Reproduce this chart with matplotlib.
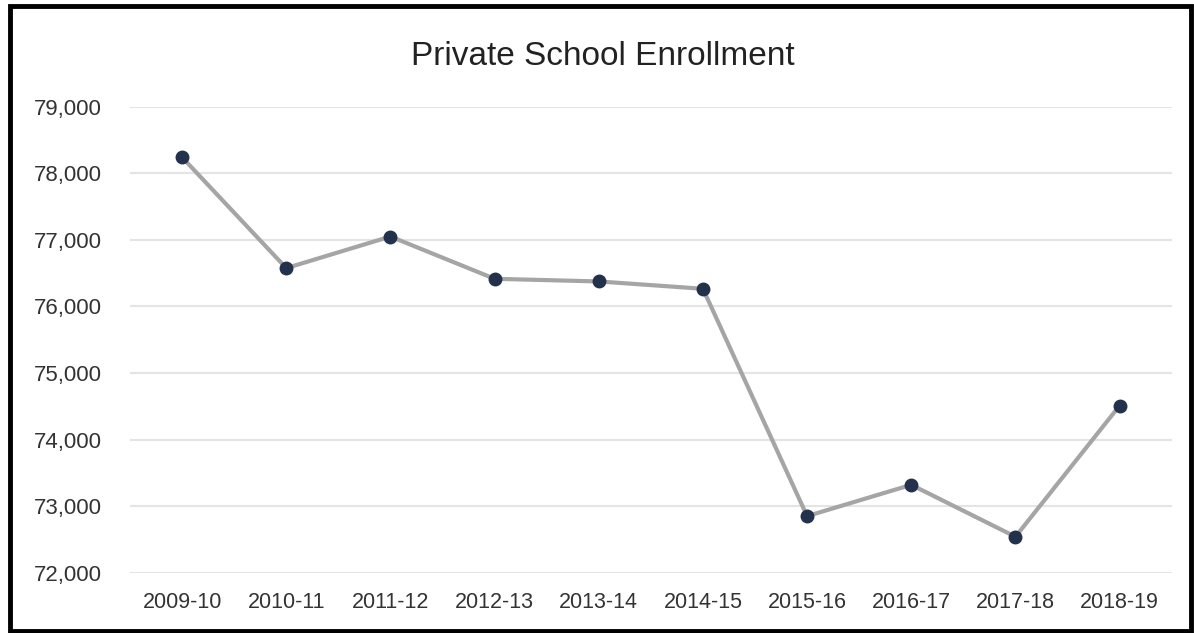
import matplotlib
matplotlib.use("Agg")
import matplotlib.pyplot as plt
from matplotlib.patches import Rectangle
from matplotlib.ticker import FuncFormatter

years = ["2009-10", "2010-11", "2011-12", "2012-13", "2013-14",
         "2014-15", "2015-16", "2016-17", "2017-18", "2018-19"]
enrollment = [78240, 76575, 77050, 76415, 76375, 76265, 72850, 73320, 72540, 74510]
yticks = [72000, 73000, 74000, 75000, 76000, 77000, 78000, 79000]

plt.rcParams['font.family'] = ['Liberation Sans', 'DejaVu Sans']

W, H = 1194, 633
fig = plt.figure(figsize=(W / 100, H / 100), dpi=100)
ax = fig.add_axes([130 / W, 1 - 572.7 / H, (1171.7 - 130) / W, (572.7 - 106.7) / H])

x = list(range(len(years)))
ax.plot(x, enrollment, color="#a5a5a5", linewidth=3.0, marker="o",
        markersize=9, markerfacecolor="#22324c", markeredgecolor="#22324c",
        zorder=3, solid_capstyle="round")

ax.set_ylim(72000, 79000)
ax.set_xlim(-0.5, 9.5)
ax.set_yticks(yticks)
ax.yaxis.set_major_formatter(FuncFormatter(lambda v, p: f"{int(v):,}"))
ax.set_xticks(x)
ax.set_xticklabels(years)
ax.grid(axis="y", color="#e4e4e4", linewidth=1.5)
ax.set_axisbelow(True)
for s in ax.spines.values():
    s.set_visible(False)
ax.tick_params(axis="both", length=0, colors="#333333")
ax.tick_params(axis="y", pad=20, labelsize=16)
ax.tick_params(axis="x", pad=14, labelsize=15.5)

fig.text(603 / W, 1 - 65 / H, "Private School Enrollment", ha="center", va="baseline",
         fontsize=24, color="#222222")

# outer frame
fig.patches.append(Rectangle((10 / W, 2 / H), (1191 - 10) / W, (627 - 2) / H,
                             transform=fig.transFigure, fill=False,
                             edgecolor="black", linewidth=3.5, zorder=10))

fig.savefig("out.png", dpi=100)
